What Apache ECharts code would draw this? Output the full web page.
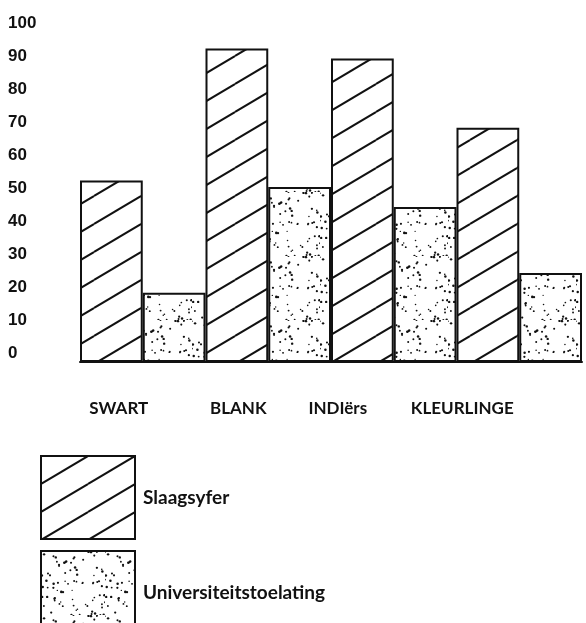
<!DOCTYPE html>
<html>
<head>
<meta charset="utf-8">
<script src="https://cdn.jsdelivr.net/npm/echarts@6/dist/echarts.min.js"></script>
<style>
  html, body { margin: 0; padding: 0; background: #fff; }
  #chart { width: 586px; height: 623px; }
</style>
</head>
<body>
<div id="chart"></div>
<script>
// data
var categories = ['SWART', 'BLANK', 'INDIërs', 'KLEURLINGE'];
var slaagsyfer = [55, 95, 92, 71];
var toelating = [21, 53, 47, 27];

// labels in the original sit left of their category centre
var labelShift = [48, 60, 112, 114];

// diagonal hatching tile
function hatchTile() {
    var W = 47, H = 28;
    var c = document.createElement('canvas');
    c.width = W; c.height = H;
    var ctx = c.getContext('2d');
    ctx.fillStyle = '#fff';
    ctx.fillRect(0, 0, W, H);
    ctx.strokeStyle = '#111';
    ctx.lineWidth = 2;
    for (var i = -1; i <= 1; i++) {
        for (var j = -1; j <= 1; j++) {
            ctx.beginPath();
            ctx.moveTo(i * W, j * H + H);
            ctx.lineTo(i * W + W, j * H);
            ctx.stroke();
        }
    }
    return c;
}

// stipple tile (fixed seed so it draws the same every time)
function stippleTile() {
    var S = 64;
    var c = document.createElement('canvas');
    c.width = S; c.height = S;
    var ctx = c.getContext('2d');
    ctx.fillStyle = '#fff';
    ctx.fillRect(0, 0, S, S);
    ctx.fillStyle = '#111';
    var seed = 11;
    function rnd() {
        seed = (seed * 16807) % 2147483647;
        return seed / 2147483647;
    }
    for (var k = 0; k < 85; k++) {
        var x = rnd() * S, y = rnd() * S, r = 0.7 + rnd() * 0.6;
        ctx.beginPath();
        ctx.arc(x, y, r, 0, Math.PI * 2);
        ctx.fill();
    }
    return c;
}

var rich = {};
labelShift.forEach(function (p, i) {
    rich['c' + i] = {
        fontFamily: 'Lato', fontSize: 17, fontWeight: 'bold', color: '#111',
        padding: [0, p, 0, 0]
    };
});

var legendBase = {
    orient: 'vertical',
    left: 35,
    icon: 'rect',
    itemWidth: 94,
    itemHeight: 83,
    textStyle: { fontFamily: 'Lato', fontSize: 19, fontWeight: 'bold', color: '#111', padding: [0, 0, 0, 3] }
};

var myChart = echarts.init(document.getElementById('chart'));
var option = {
    animation: false,
    backgroundColor: '#fff',
    grid: { left: 80, right: 4, top: 32, bottom: 261 },
    legend: [
        Object.assign({ top: 450, data: ['Slaagsyfer'] }, legendBase),
        Object.assign({ top: 545, data: ['Universiteitstoelating'] }, legendBase)
    ],
    xAxis: {
        type: 'category',
        data: categories,
        axisLine: { lineStyle: { color: '#111', width: 2 } },
        axisTick: { show: false },
        axisLabel: {
            interval: 0,
            margin: 38,
            formatter: function (v, i) { return '{c' + i + '|' + v + '}'; },
            rich: rich
        }
    },
    yAxis: {
        type: 'value',
        min: 0,
        max: 100,
        interval: 10,
        splitLine: { show: false },
        axisLine: { show: false },
        axisTick: { show: false },
        axisLabel: {
            align: 'left',
            margin: 72,
            verticalAlign: 'bottom',
            fontFamily: 'Liberation Sans',
            fontWeight: 'bold',
            fontSize: 17,
            color: '#111'
        }
    },
    series: [
        {
            name: 'Slaagsyfer',
            type: 'bar',
            data: slaagsyfer,
            barGap: '0%',
            barCategoryGap: '0%',
            itemStyle: {
                color: { image: hatchTile(), repeat: 'repeat' },
                borderColor: '#111',
                borderWidth: 2
            }
        },
        {
            name: 'Universiteitstoelating',
            type: 'bar',
            data: toelating,
            barGap: '0%',
            barCategoryGap: '0%',
            itemStyle: {
                color: { image: stippleTile(), repeat: 'repeat' },
                borderColor: '#111',
                borderWidth: 2
            }
        }
    ]
};
myChart.setOption(option);
</script>
</body>
</html>
